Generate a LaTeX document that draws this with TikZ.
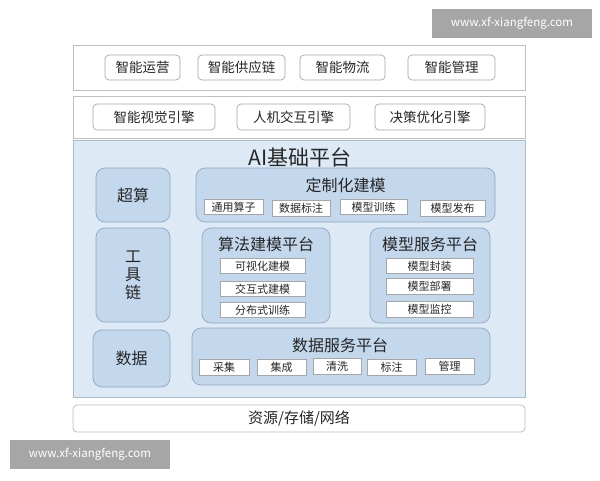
\documentclass[tikz,border=0pt]{standalone}
\usepackage{fontspec}
\setmainfont{Noto Sans CJK SC}
\definecolor{platfill}{HTML}{DDEAF5}
\definecolor{platdraw}{HTML}{A8BCCB}
\definecolor{grpfill}{HTML}{C3D8EC}
\definecolor{grpdraw}{HTML}{8FA8BE}
\begin{document}
\begin{tikzpicture}[x=1pt,y=-1pt,
  every node/.style={font=\fontsize{12}{14}\selectfont, text=black!85, inner sep=0pt},
  layer/.style={draw=black!25, fill=white, line width=0.8pt},
  topitem/.style={draw=black!35, fill=white, rounded corners=4pt, line width=0.7pt, font=\fontsize{13.5}{15}\selectfont},
  platform/.style={draw=platdraw, fill=platfill, line width=0.8pt},
  group/.style={draw=grpdraw, fill=grpfill, rounded corners=9pt, line width=0.7pt},
  smallitem/.style={draw=black!35, fill=white, line width=0.6pt, font=\fontsize{11}{12}\selectfont},
  grouptitle/.style={font=\fontsize{16}{18}\selectfont},
  wm/.style={fill=black!35, text=white, font=\fontsize{11.5}{13}\selectfont}
]
\useasboundingbox (0,0) rectangle (600,480);
\fill[white] (0,0) rectangle (600,480);
% watermarks
\node[wm, minimum width=160, minimum height=29] (wm1) at (512,23.5) {www.xf-xiangfeng.com};
\node[wm, minimum width=160, minimum height=29] (wm2) at (90,454) {www.xf-xiangfeng.com};
% top layer
\node[layer, minimum width=452, minimum height=45] (app) at (299,67.5) {};
\node[topitem, minimum width=75, minimum height=25] (a1) at (142.5,67.5) {智能运营};
\node[topitem, minimum width=87, minimum height=25] (a2) at (241.5,67.5) {智能供应链};
\node[topitem, minimum width=85, minimum height=25] (a3) at (342.5,67.5) {智能物流};
\node[topitem, minimum width=87, minimum height=25] (a4) at (451.5,67.5) {智能管理};
% engines
\node[layer, minimum width=452, minimum height=42] (eng) at (299,117) {};
\node[topitem, minimum width=122, minimum height=26] (e1) at (154,117) {智能视觉引擎};
\node[topitem, minimum width=113, minimum height=26] (e2) at (293.5,117) {人机交互引擎};
\node[topitem, minimum width=110, minimum height=26] (e3) at (430,117) {决策优化引擎};
% AI platform
\node[platform, minimum width=452, minimum height=257] (ai) at (299,268.5) {};
\node[font=\fontsize{21}{23}\selectfont] (aititle) at (300,157) {AI基础平台};
% left column
\node[group, minimum width=74, minimum height=54, grouptitle] (cs) at (133,195) {超算};
\node[group, minimum width=74, minimum height=94, grouptitle, align=center] (gj) at (133,275) {工\\[0pt]具\\[0pt]链};
\node[group, minimum width=77, minimum height=57, grouptitle] (sj) at (131.5,358.5) {数据};
% customized modeling
\node[group, minimum width=299, minimum height=54] (dz) at (345.5,195) {};
\node[grouptitle] (dzt) at (345.5,185) {定制化建模};
\node[smallitem, minimum width=59, minimum height=15] (d1) at (233.5,207) {通用算子};
\node[smallitem, minimum width=58, minimum height=16] (d2) at (301,208) {数据标注};
\node[smallitem, minimum width=67, minimum height=15] (d3) at (373.5,207) {模型训练};
\node[smallitem, minimum width=65, minimum height=16] (d4) at (452.5,208) {模型发布};
% algorithm modeling platform
\node[group, minimum width=128, minimum height=95] (sf) at (266,275.5) {};
\node[grouptitle] (sft) at (266,244) {算法建模平台};
\node[smallitem, minimum width=85, minimum height=15] (s1) at (262.5,266) {可视化建模};
\node[smallitem, minimum width=85, minimum height=15] (s2) at (262.5,289) {交互式建模};
\node[smallitem, minimum width=85, minimum height=15] (s3) at (262.5,310) {分布式训练};
% model service platform
\node[group, minimum width=120, minimum height=95] (mx) at (430,275.5) {};
\node[grouptitle] (mxt) at (430,244) {模型服务平台};
\node[smallitem, minimum width=87, minimum height=15] (m1) at (429.5,266) {模型封装};
\node[smallitem, minimum width=87, minimum height=16] (m2) at (429.5,286) {模型部署};
\node[smallitem, minimum width=87, minimum height=16] (m3) at (429.5,309.5) {模型监控};
% data service platform
\node[group, minimum width=298, minimum height=57] (ds) at (341,356.5) {};
\node[grouptitle] (dst) at (340,345) {数据服务平台};
\node[smallitem, minimum width=50, minimum height=16] (x1) at (224,367) {采集};
\node[smallitem, minimum width=49, minimum height=16] (x2) at (281.5,367) {集成};
\node[smallitem, minimum width=48, minimum height=16] (x3) at (337,366.5) {清洗};
\node[smallitem, minimum width=49, minimum height=16] (x4) at (391.5,367) {标注};
\node[smallitem, minimum width=49, minimum height=16] (x5) at (449.5,366.5) {管理};
% bottom
\node[layer, rounded corners=4pt, minimum width=452, minimum height=27, font=\fontsize{15}{16}\selectfont] (res) at (299,418.5) {资源/存储/网络};
\end{tikzpicture}
\end{document}
